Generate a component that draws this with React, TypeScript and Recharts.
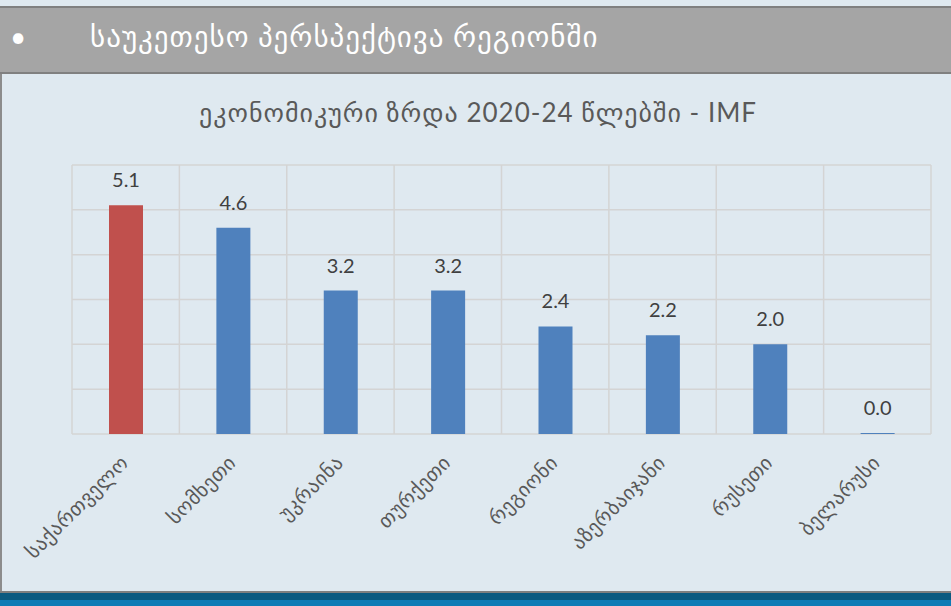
import { BarChart, Bar, XAxis, YAxis, CartesianGrid, Cell, LabelList } from 'recharts';

// IMF, economic growth 2020-24
const countries = ['საქართველო', 'სომხეთი', 'უკრაინა', 'თურქეთი', 'რეგიონი', 'აზერბაიჯანი', 'რუსეთი', 'ბელარუსი'];
const growth = [5.1, 4.6, 3.2, 3.2, 2.4, 2.2, 2.0, 0.02];
const yTicks = [0, 1, 2, 3, 4, 5, 6];

const headerText = 'საუკეთესო პერსპექტივა რეგიონში';
const chartTitle = 'ეკონომიკური ზრდა 2020-24 წლებში - IMF';

const data = countries.map((name, i) => ({ name, growth: growth[i] }));

const BG = '#dfe9f0';
const FONT = 'Lato, "DejaVu Sans", sans-serif';
const RED = '#c0504d';
const BLUE = '#4f81bd';
const yMax = yTicks[yTicks.length - 1];

function CountryTick({ x, y, payload }: any) {
  return (
    <g transform={`translate(${x + 4},${y + 30}) rotate(-45)`}>
      <text x={0} y={0} textAnchor="end" fill="#595959" fontSize={20} letterSpacing={0.5} fontFamily={FONT}>
        {payload.value}
      </text>
    </g>
  );
}

export default function App() {
  return (
    <div style={{ position: 'absolute', left: 0, top: 0, width: 951, height: 606, background: BG, overflow: 'hidden' }}>
      <div
        style={{
          position: 'absolute',
          left: 0,
          top: 6,
          width: 951,
          height: 68,
          boxSizing: 'border-box',
          background: '#a5a5a5',
          borderTop: '2px solid #808080',
          borderBottom: '2px solid #808080',
          color: '#fff',
          fontFamily: FONT,
        }}
      >
        <span style={{ position: 'absolute', left: 10, top: 11, fontSize: 28 }}>•</span>
        <span style={{ position: 'absolute', left: 90, top: 10, fontSize: 29, letterSpacing: 1, whiteSpace: 'nowrap' }}>
          {headerText}
        </span>
      </div>

      <div style={{ position: 'absolute', left: 0, top: 74, width: 2, height: 517, background: '#8c8c8c' }} />

      <div
        style={{
          position: 'absolute',
          left: 0,
          top: 96,
          width: 956,
          textAlign: 'center',
          fontFamily: FONT,
          fontSize: 26,
          letterSpacing: 1,
          color: '#595959',
          whiteSpace: 'nowrap',
        }}
      >
        {chartTitle}
      </div>

      <div style={{ position: 'absolute', left: 0, top: 0 }}>
        <BarChart width={951} height={591} data={data} margin={{ top: 165, right: 20, left: 72, bottom: 57 }}>
          <CartesianGrid
            stroke="#d4d4d4"
            strokeWidth={1.5}
            horizontalCoordinatesGenerator={({ offset }: any) =>
              yTicks.map((t) => offset.top + offset.height * (1 - t / yMax))
            }
            verticalCoordinatesGenerator={({ offset }: any) =>
              Array.from({ length: countries.length + 1 }, (_, i) => offset.left + (i * offset.width) / countries.length)
            }
          />
          <XAxis
            dataKey="name"
            axisLine={false}
            tickLine={false}
            tickSize={0}
            tickMargin={0}
            height={100}
            interval={0}
            tick={<CountryTick />}
          />
          <YAxis domain={[0, yMax]} ticks={yTicks} width={0} axisLine={false} tickLine={false} tick={false} />
          <Bar dataKey="growth" barSize={34} isAnimationActive={false}>
            {data.map((d, i) => (
              <Cell key={d.name} fill={i === 0 ? RED : BLUE} />
            ))}
            <LabelList
              dataKey="growth"
              position="top"
              offset={18}
              fill="#404040"
              fontSize={20}
              fontFamily={FONT}
              formatter={(v: any) => Number(v).toFixed(1)}
            />
          </Bar>
        </BarChart>
      </div>

      <div style={{ position: 'absolute', left: 0, top: 591, width: 951, height: 2, background: '#7f7f7f' }} />
      <div style={{ position: 'absolute', left: 0, top: 593, width: 951, height: 7, background: '#0b5a80' }} />
      <div style={{ position: 'absolute', left: 0, top: 600, width: 951, height: 6, background: '#0e7bb5' }} />
    </div>
  );
}
